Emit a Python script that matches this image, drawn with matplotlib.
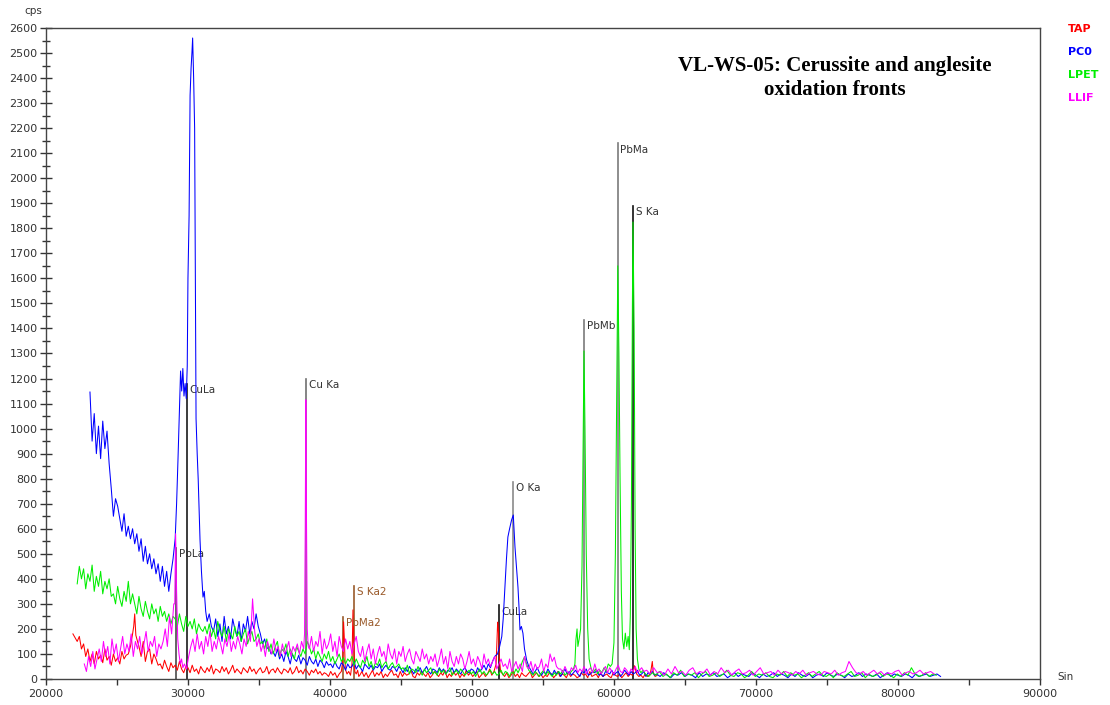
import numpy as np
import matplotlib.pyplot as plt

# WDS scans (Sin position vs cps). Background scanned on a regular step,
# peaks given point by point.

# ---- TAP (red)
tap_start = [21900, 26400, 42100, 52150]
tap_step = [150, 150, 150, 150]
tap_seg1 = [180, 165, 150, 170, 120, 140, 90, 120, 70, 100, 60, 110, 80, 95, 65,
            120, 75, 90, 55, 100, 70, 85, 60, 110, 80, 95, 100, 130, 180]
tap_seg2 = [160, 130, 90, 150, 70, 110, 120, 60, 100, 80, 55,
            60, 40, 75, 50, 30, 65, 45, 55, 35, 70, 40, 25, 50,
            45, 25, 55, 30, 40, 20, 50, 35, 25, 45, 30, 55, 20, 40, 35, 25,
            50, 30, 45, 20, 35, 55, 25, 40, 30, 20, 45, 35, 25, 50, 30, 40,
            20, 35, 45, 25, 30, 50, 20, 35, 40, 25, 45, 30, 20, 40, 35, 25,
            45, 20, 30, 50, 25, 35, 20, 40, 30, 15, 35, 25, 40, 20, 30, 15, 25,
            20, 10, 30, 15, 25, 5, 20]
tap_seg3 = [15, 30, 10, 25, 5, 20, 35, 10, 25, 15, 30, 5, 20, 10, 25, 35, 15, 20,
            5, 30, 10, 25, 15, 20, 35, 10, 5, 25, 15, 30, 20, 10, 25, 5, 15, 30,
            20, 10, 25, 15, 35, 5, 20, 10, 30, 15, 25, 5, 20, 10, 35, 15, 25, 10,
            20, 30, 5, 15, 25, 10, 20, 40, 15, 30, 60]
tap_seg4 = [20, 10, 25, 5, 15, 30, 10, 20, 5, 25, 15, 10, 20, 30, 5, 15, 25, 10,
            20, 5, 15, 10, 25, 20, 5, 15, 30, 10, 20, 15, 5, 25, 10, 20, 15, 5,
            10, 25, 15, 20, 5, 30, 10, 15, 20, 5, 25, 10, 15, 20, 10, 5, 25, 15,
            10, 20, 5, 15, 25, 10, 20, 15, 53, 20, 10, 15, 5, 20, 10]
tap_peak_x = [26180, 26250, 26330,
              40800, 40900, 40960, 41020, 41080, 41200, 41320, 41450, 41550,
              41620, 41680, 41750, 41850, 41950, 42030,
              51760, 51810, 51860, 51930, 52020,
              62550, 62620, 62700, 62770, 62900, 63050]
tap_peak_y = [210, 260, 175,
              30, 70, 228, 150, 40, 20, 30, 15, 60,
              276, 150, 30, 20, 35, 10,
              150, 227, 200, 80, 30,
              20, 40, 70, 25, 10, 15]

# ---- PC0 (blue)
pc0_start = [23100, 31350, 54150, 63000]
pc0_step = [150, 150, 150, 250]
pc0_seg1 = [1146, 950, 1060, 900, 1010, 880, 1030, 920, 990, 860,
            760, 650, 720, 690, 640, 590, 660, 570, 610, 560,
            600, 540, 580, 510, 560, 470, 530, 460, 500, 440,
            480, 420, 460, 390, 450, 370, 430, 350, 420, 480]
pc0_seg2 = [230, 260, 210,
            190, 240, 170, 220, 150, 250, 180, 210, 160, 240, 200, 170, 230, 150,
            220, 190, 250, 180, 230, 200, 260, 210,
            180, 140, 160, 120, 130, 100, 110,
            90, 120, 80, 100, 70, 110, 90, 60, 100, 80, 70, 95, 60, 85, 75, 55,
            90, 70, 60, 80, 50, 75, 65, 45, 70, 55,
            60, 45, 70, 50, 40, 65, 55, 35, 60, 45, 50, 70, 40, 55, 45, 30, 60,
            50, 40, 55, 35, 50, 45, 60, 30, 45, 55, 40, 35, 50, 45, 30, 50,
            40, 25, 45, 30, 50, 35, 20, 40, 30, 45, 25, 35, 50, 30, 20, 40, 35,
            25, 45, 30, 40, 20, 35, 30, 45, 25, 40, 30, 20, 35, 45, 30, 25, 40,
            35, 20, 45, 30, 40, 55, 35, 60, 45, 70, 90]
pc0_seg3 = [35, 20, 30, 45, 25, 15, 30, 20, 40, 25, 15, 35, 20, 30, 10, 25, 40,
            20, 30, 15, 25, 35, 20, 10, 30, 25, 40, 15, 20, 30, 25, 35, 15, 20,
            10, 30, 25, 20, 35, 15, 25, 30, 10, 20, 35, 25, 15, 30, 20, 25, 35,
            15, 20, 30, 10, 25, 20, 30, 15]
pc0_seg4 = [20, 10, 25, 15, 5, 20, 15, 25, 10, 20, 15, 5, 25, 10, 20, 15, 25, 10,
            15, 20, 5, 15, 25, 10, 20, 15, 10, 25, 15, 5, 20, 10, 15, 25, 10, 20,
            15, 5, 20, 10, 25, 15, 10, 20, 5, 15, 20, 10, 25, 15, 10, 20, 15, 5,
            20, 10, 15, 25, 10, 20, 15, 10, 20, 5, 15, 25, 10, 20, 15, 10, 20, 15,
            5, 20, 10, 15, 20, 10, 15, 20, 10]
pc0_peak_x = [29100, 29200, 29300, 29400, 29480, 29560, 29640, 29720, 29800,
              29880, 29950, 30000, 30080, 30150, 30220, 30280, 30330, 30400,
              30470, 30530, 30570, 30650, 30720, 30800, 30850, 30950, 31060,
              31150, 31250,
              51800, 51950, 52100, 52200, 52320, 52430, 52530, 52650, 52790,
              52910, 53030, 53130, 53240, 53320, 53380, 53480, 53590, 53700,
              53850, 54000]
pc0_peak_y = [560, 700, 880, 1080, 1230, 1150, 1240, 1130, 1180,
              1120, 1250, 1600, 1850, 2330, 2440, 2500, 2560, 2400,
              2200, 1500, 1040, 900, 800, 650, 555, 430, 327,
              350, 270,
              100, 130, 170, 240, 367, 480, 567, 600, 635,
              655, 527, 450, 367, 280, 196, 210, 183, 120,
              76, 50]

# ---- LPET (green)
lpet_start = [22200, 31200, 45150, 62200]
lpet_step = [150, 150, 150, 250]
lpet_seg1 = [380, 450, 400, 440, 360, 420, 390, 455, 350, 410, 370, 430, 340, 390,
             360, 400, 330,
             340, 300, 370, 320, 290, 350, 310, 390, 300, 340,
             300, 260, 330, 280, 250, 310, 270, 240, 300, 260, 280, 230, 290, 250,
             270, 230, 260, 220, 250,
             240, 210, 260, 220, 190, 250, 210, 230, 200, 240, 180, 220, 200, 190]
lpet_seg2 = [210, 180, 220, 170, 200, 160, 230, 190, 170, 210, 150, 200, 180, 160,
             210, 170, 190, 150, 180, 200, 140, 170, 190, 150, 160, 180, 140,
             150, 120, 160, 110, 140, 100, 130, 150, 90, 120, 110, 140, 90, 120,
             100, 80, 130, 110, 90, 120, 100,
             150, 130, 100, 120, 80, 110, 90, 70, 100, 80, 110, 70, 90, 60, 80,
             100, 70, 85, 60, 80,
             70, 90, 55, 80, 60, 45, 75, 60, 90, 50, 70, 40, 65, 55, 80, 45, 60,
             70, 40, 55, 65, 45, 50, 60, 40]
lpet_seg3 = [45, 30, 55, 20, 40, 35, 25, 50, 30, 15, 40, 25, 35, 45, 20, 30, 15,
             40, 25, 35, 20, 30, 45, 15, 25, 35, 20, 40, 30, 15, 25, 35, 20, 30,
             10, 25, 40, 20, 30, 15, 25, 35, 20, 30, 15,
             20, 35, 15, 30, 25, 10, 30, 20, 40, 25, 45, 70, 88,
             60, 35, 25, 15, 30, 20, 10, 25, 35, 15, 30, 20, 10, 25, 15, 30, 20,
             35, 15, 25, 20, 30, 40]
lpet_seg4 = [20, 10, 25, 15, 30, 10, 20, 5, 25, 15, 35, 10, 20, 15, 25, 5, 20, 30,
             10, 15, 25, 10, 20, 35, 15, 10, 25, 20, 5, 15, 30, 10, 20, 15, 25, 10,
             5, 20, 15, 30, 10, 25, 15, 20, 5, 15, 25, 10, 20, 30, 15, 10, 20, 5,
             25, 15, 10, 20, 30, 10, 15, 25, 5, 20, 10, 15, 25, 10, 20, 15, 5, 20,
             10, 25, 15, 45, 20, 10, 15, 25, 10, 20, 15]
lpet_peak_x = [57250, 57320, 57400, 57460, 57550, 57650, 57750, 57820, 57890,
               57960, 58050, 58150, 58250, 58400, 58550, 58700, 58850, 59000,
               59150, 59300, 59450, 59600, 59750, 59870, 60000, 60100, 60200,
               60270, 60350, 60430, 60520, 60600, 60700, 60800, 60900, 61000,
               61080, 61150, 61230, 61300, 61340, 61420, 61490, 61560, 61650,
               61750, 61900, 62050]
lpet_peak_y = [60, 156, 200, 130, 160, 200, 450, 900, 1310,
               1000, 500, 200, 80, 40, 25, 40, 20, 35,
               25, 45, 30, 60, 50, 60, 145, 500, 1200,
               1650, 1300, 800, 350, 160, 120, 183, 130, 170,
               117, 250, 700, 1500, 1825, 1400, 600, 200, 80,
               40, 25, 35]

# ---- LLIF (magenta)
llif_start = [22700, 29750, 38550, 62300]
llif_step = [150, 150, 150, 250]
llif_seg1 = [60, 30, 90, 50, 110, 40, 80, 120, 70,
             150, 90, 130, 60, 160, 100, 140, 70, 120, 170, 100,
             140, 110, 180, 90, 150, 120, 170, 100, 140, 190, 110, 150, 130, 170,
             90, 140, 120,
             150, 200, 130, 250, 180, 300]
llif_seg2 = [60, 40, 90, 130, 160, 110, 180, 120, 150, 100, 170, 130, 190, 110, 150,
             120, 170, 140, 100, 160, 130, 180, 110, 150, 120, 170, 140, 100, 160,
             130, 190, 150,
             320, 190, 130, 160, 110, 140, 90, 150, 120, 100, 160, 110, 130, 90,
             140, 100, 120, 150, 90, 130, 110, 140, 100, 150, 120]
llif_seg3 = [120, 170, 110, 150, 130, 190, 100, 160, 120, 140, 180, 110, 150, 90,
             170, 130, 110, 160, 120, 150, 100, 140, 170, 110,
             90, 130, 70, 110, 140, 80, 120, 60, 100, 130, 90, 110, 70, 140, 100,
             80, 120, 60, 110, 90, 130, 70, 100, 120, 80, 60, 110, 90, 70, 120, 80,
             100, 60, 90,
             70, 100, 50, 80, 120, 60, 90, 40, 110, 70, 50, 90, 60, 100, 80, 40,
             70, 110, 60, 80, 50, 90, 70, 40, 100, 60, 80, 50, 70, 90, 40, 60, 80, 50,
             60, 40, 80, 30, 50, 70, 40, 60, 30, 90, 50, 40, 70, 30, 60, 40, 50, 80,
             30, 60, 45, 100, 70, 87, 50, 40,
             40, 25, 50, 30, 20, 45, 35, 55, 25, 40, 30, 50, 20, 35, 45, 25, 60, 30,
             40, 20, 35, 50, 25, 45, 30, 20, 40, 55, 30, 25, 45, 35, 20, 40, 30, 50,
             25, 35, 45, 30]
llif_seg4 = [35, 20, 45, 25, 30, 15, 40, 20, 50, 25, 30, 15, 35, 45, 20, 30, 25, 40,
             15, 30, 20, 45, 25, 35, 15, 30, 40, 20, 25, 35, 15, 30, 45, 20, 25, 30,
             15, 35, 20, 30, 25, 15, 30, 20, 35, 15, 25, 30, 20, 15, 30, 25, 20, 35,
             15, 25, 30, 70, 45, 25, 20, 30, 15, 25, 35, 20, 30, 15, 25, 20, 30, 35,
             15, 25, 30, 20, 25, 35, 20, 25, 30, 20]
llif_peak_x = [29070, 29130, 29200, 29280, 29370, 29460, 29550, 29640,
               38210, 38260, 38300, 38340, 38400, 38470]
llif_peak_y = [300, 580, 350, 160, 100, 60, 80, 45,
               180, 600, 1115, 700, 200, 130]

# ---- element line markers
mark_names = ["PbLa", "CuLa", "Cu Ka", "PbMa2", "S Ka2", "CuLa", "O Ka",
              "PbMb", "PbMa", "S Ka"]
mark_pos = [29150, 29900, 38300, 40950, 41690, 51900, 52900, 57890, 60260, 61340]
mark_top = [523, 1180, 1200, 248, 373, 295, 787, 1434, 2140, 1889]
mark_color = ["#4a4a4a", "#1a1a1a", "#707070", "#9a5a2a", "#9a5a2a", "#111111",
              "#8a8a8a", "#7a7a7a", "#7a7a7a", "#111111"]


def build(starts, steps, segs, px, py):
    xs = [s + d * np.arange(len(v)) for s, d, v in zip(starts, steps, segs)]
    ys = [np.asarray(v, float) for v in segs]
    x = np.concatenate(xs + [np.asarray(px, float)])
    y = np.concatenate(ys + [np.asarray(py, float)])
    o = np.argsort(x, kind="stable")
    return x[o], y[o]


series = [
    ("TAP", "#ff0000", build(tap_start, tap_step, [tap_seg1, tap_seg2, tap_seg3, tap_seg4], tap_peak_x, tap_peak_y)),
    ("PC0", "#0000ff", build(pc0_start, pc0_step, [pc0_seg1, pc0_seg2, pc0_seg3, pc0_seg4], pc0_peak_x, pc0_peak_y)),
    ("LPET", "#00ee00", build(lpet_start, lpet_step, [lpet_seg1, lpet_seg2, lpet_seg3, lpet_seg4], lpet_peak_x, lpet_peak_y)),
    ("LLIF", "#ff00ff", build(llif_start, llif_step, [llif_seg1, llif_seg2, llif_seg3, llif_seg4], llif_peak_x, llif_peak_y)),
]

fig = plt.figure(figsize=(11.1, 7.05), dpi=100)
ax = fig.add_axes([0.0414, 0.0369, 0.8955, 0.9234])

for i, (pos, top, c) in enumerate(zip(mark_pos, mark_top, mark_color)):
    ax.plot([pos, pos], [0, top], color=c, lw=1.2, zorder=1)
    tc = "#9a5a2a" if c == "#9a5a2a" else "#333333"
    ax.annotate(mark_names[i], (pos, top), xytext=(2, -1), textcoords="offset points",
                ha="left", va="top", fontsize=7.5, color=tc)

for z, (name, col, (x, y)) in enumerate(series):
    ax.plot(x, y, color=col, lw=0.75, zorder=2 + z)

ax.set_xlim(20000, 90000)
ax.set_ylim(0, 2600)
ax.set_xticks(np.arange(20000, 90001, 10000))
ax.set_xticks(np.arange(25000, 90000, 10000), minor=True)
ax.set_yticks(np.arange(0, 2601, 100))
ax.set_yticks(np.arange(50, 2600, 100), minor=True)
ax.tick_params(axis="x", which="both", direction="out", length=4, width=1,
               labelsize=8, colors="#333333", pad=3)
ax.tick_params(axis="y", which="major", direction="inout", length=8, width=1,
               labelsize=8, colors="#333333", pad=2)
ax.tick_params(axis="y", which="minor", direction="inout", length=6, width=1,
               colors="#333333")
for sp in ax.spines.values():
    sp.set_color("#444444")
    sp.set_linewidth(1)

fig.text(0.022, 0.984, "cps", fontsize=7.5, color="#333333", ha="left", va="center")
fig.text(0.953, 0.040, "Sin", fontsize=7.5, color="#333333", ha="left", va="center")

ax.text(0.794, 0.923, "VL-WS-05: Cerussite and anglesite\noxidation fronts",
        transform=ax.transAxes, ha="center", va="center", fontsize=15,
        fontweight="bold", family="Liberation Serif", linespacing=1.25)

legend_y = [0.959, 0.926, 0.894, 0.861]
for (name, col, _), yy in zip(series, legend_y):
    fig.text(0.962, yy, name, color=col, fontsize=8, fontweight="bold",
             ha="left", va="center")

fig.savefig("out.png", dpi=100)
